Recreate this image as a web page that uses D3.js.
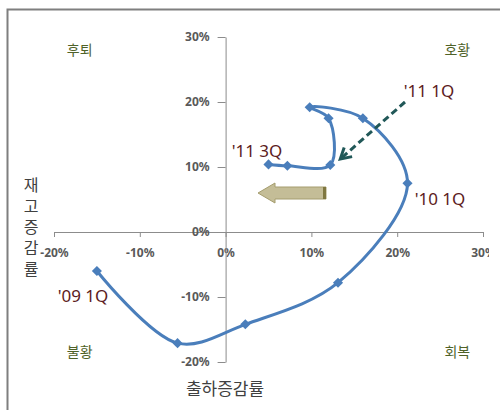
<!DOCTYPE html>
<html>
<head>
<meta charset="utf-8">
<script src="https://cdn.jsdelivr.net/npm/d3@7"></script>
<style>
  body { margin: 0; background: #fff; }
  svg { display: block; font-family: "Noto Sans CJK KR", "Noto Sans", sans-serif; }
</style>
</head>
<body>
<svg width="500" height="410"></svg>
<script>
// quarterly shipment vs inventory change, '09 1Q .. '11 3Q
var quarters = ["'09 1Q", "'09 2Q", "'09 3Q", "'09 4Q", "'10 1Q", "'10 2Q", "'10 3Q", "'10 4Q", "'11 1Q", "'11 2Q", "'11 3Q"];
var shipment = [-0.150, -0.056, 0.023, 0.131, 0.212, 0.160, 0.098, 0.120, 0.122, 0.072, 0.050];
var inventory = [-0.060, -0.171, -0.142, -0.078, 0.075, 0.175, 0.192, 0.175, 0.103, 0.102, 0.104];
var labeled = ["'09 1Q", "'10 1Q", "'11 1Q", "'11 3Q"];
var xTicks = [-0.2, -0.1, 0, 0.1, 0.2, 0.3];
var yTicks = [-0.2, -0.1, 0, 0.1, 0.2, 0.3];
var quadrants = ["후퇴", "호황", "불황", "회복"];
var xTitle = "출하증감률";
var yTitle = "재고증감률";

var svg = d3.select("svg");

var x = d3.scaleLinear().domain([-0.2, 0.3]).range([54, 483]);
var y = d3.scaleLinear().domain([-0.2, 0.3]).range([362, 37]);
// plain hyphen for negatives
var pct = function(v) { return Math.round(v * 100) + "%"; };

// axes crossing at the origin
var xAxis = svg.append("g")
    .attr("transform", "translate(0," + y(0) + ")")
    .call(d3.axisBottom(x).tickValues(xTicks).tickFormat(pct).tickSize(5).tickSizeOuter(0).tickPadding(11));
var yAxis = svg.append("g")
    .attr("transform", "translate(" + x(0) + ",0)")
    .call(d3.axisLeft(y).tickValues(yTicks).tickFormat(pct).tickSize(8).tickSizeOuter(0).tickPadding(8));

[xAxis, yAxis].forEach(function(g) {
    g.select(".domain").attr("stroke", "#8c8c8c");
    g.selectAll(".tick line").attr("stroke", "#8c8c8c");
    g.selectAll(".tick text")
        .attr("fill", "#595959")
        .style("font-family", "'Noto Sans', sans-serif")
        .style("font-size", "12px")
        .style("font-weight", "bold");
});

// chart area ends just short of the right edge
svg.append("rect")
    .attr("x", 489).attr("y", 11).attr("width", 11).attr("height", 399)
    .attr("fill", "#fff");

// frame (left and top edges only)
svg.append("path")
    .attr("d", "M7.5,410 L7.5,9.5 L500,9.5")
    .attr("fill", "none").attr("stroke", "#7f7f7f").attr("stroke-width", 2);

// quadrant names
var quadPos = [[-0.17, 0.28], [0.27, 0.28], [-0.17, -0.185], [0.27, -0.185]];
svg.selectAll(".quad").data(quadrants).enter().append("text")
    .attr("class", "quad")
    .attr("x", function(d, i) { return x(quadPos[i][0]); })
    .attr("y", function(d, i) { return y(quadPos[i][1]); })
    .attr("dy", "0.35em")
    .attr("text-anchor", "middle")
    .attr("fill", "#4f6228")
    .style("font-size", "14px")
    .text(function(d) { return d; });

// axis titles
svg.append("text")
    .attr("x", 225).attr("y", 389).attr("dy", "0.35em")
    .attr("text-anchor", "middle")
    .attr("fill", "#404040")
    .style("font-size", "17px")
    .text(xTitle);

svg.append("text")
    .attr("x", 31).attr("y", 177)
    .attr("fill", "#404040")
    .style("font-size", "16px")
    .style("writing-mode", "vertical-rl")
    .style("text-orientation", "upright")
    .style("letter-spacing", "5px")
    .text(yTitle);

// left-pointing block arrow
svg.append("path")
    .attr("d", "M258,193 L275,183 L275,187 L326,187 L326,199 L275,199 L275,203 Z")
    .attr("fill", "#c4bd97").attr("stroke", "#a59d6e").attr("stroke-width", 1);
svg.append("rect")
    .attr("x", 323).attr("y", 187).attr("width", 3).attr("height", 12)
    .attr("fill", "#7f7740");

// trajectory
var pts = quarters.map(function(q, i) { return { q: q, x: shipment[i], y: inventory[i] }; });

svg.append("path")
    .datum(pts)
    .attr("fill", "none")
    .attr("stroke", "#4a7ebb")
    .attr("stroke-width", 3)
    .attr("stroke-linejoin", "round")
    .attr("d", d3.line().curve(d3.curveCatmullRom.alpha(0.5))
        .x(function(d) { return x(d.x); })
        .y(function(d) { return y(d.y); }));

svg.selectAll(".pt").data(pts).enter().append("path")
    .attr("class", "pt")
    .attr("transform", function(d) { return "translate(" + x(d.x) + "," + y(d.y) + ")"; })
    .attr("d", d3.symbol().type(d3.symbolDiamond2).size(65))
    .attr("fill", "#4a7ebb");

// dashed pointer to '11 1Q
svg.append("defs").append("marker")
    .attr("id", "chev")
    .attr("viewBox", "0 0 10 10")
    .attr("refX", 8).attr("refY", 5)
    .attr("markerWidth", 5).attr("markerHeight", 5)
    .attr("orient", "auto")
    .append("path")
    .attr("d", "M1,1 L8,5 L1,9")
    .attr("fill", "none").attr("stroke", "#215858").attr("stroke-width", 2);

var q1 = pts[8];
svg.append("line")
    .attr("x1", 405).attr("y1", 102)
    .attr("x2", x(q1.x) + 10).attr("y2", y(q1.y) - 6)
    .attr("stroke", "#215858")
    .attr("stroke-width", 3)
    .attr("stroke-dasharray", "7,4")
    .attr("marker-end", "url(#chev)");

// period labels
var labelPos = { "'09 1Q": [83, 296], "'10 1Q": [440, 199], "'11 1Q": [429, 91], "'11 3Q": [257, 151] };
svg.selectAll(".lbl").data(labeled).enter().append("text")
    .attr("class", "lbl")
    .attr("x", function(d) { return labelPos[d][0]; })
    .attr("y", function(d) { return labelPos[d][1]; })
    .attr("dy", "0.35em")
    .attr("text-anchor", "middle")
    .attr("fill", "#5c1c22")
    .style("font-family", "'Noto Sans', sans-serif")
    .style("font-size", "17px")
    .text(function(d) { return d; });
</script>
</body>
</html>
